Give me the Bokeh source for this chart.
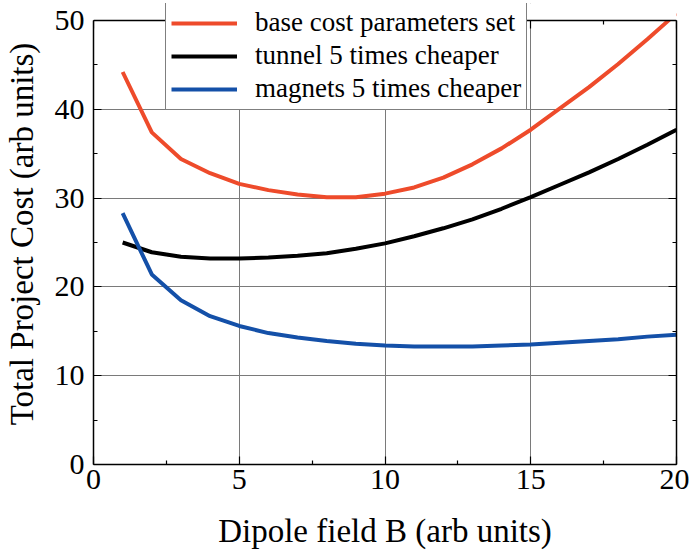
from bokeh.plotting import figure
from bokeh.models import Legend, LegendItem, LinearAxis, FixedTicker, Range1d, BoxAnnotation
from bokeh.embed import file_html
from bokeh.resources import INLINE

# ---- data ----
B = [1, 2, 3, 4, 5, 6, 7, 8, 9, 10, 11, 12, 13, 14, 15, 16, 17, 18, 19, 20]
base_cost = [44.2, 37.4, 34.4, 32.8, 31.6, 30.9, 30.4, 30.1, 30.1, 30.5,
             31.2, 32.3, 33.8, 35.6, 37.7, 40.1, 42.5, 45.1, 47.9, 50.8]
tunnel_cheaper = [25.0, 23.9, 23.4, 23.2, 23.2, 23.3, 23.5, 23.8, 24.3, 24.9,
                  25.7, 26.6, 27.6, 28.8, 30.1, 31.5, 32.9, 34.4, 36.0, 37.7]
magnets_cheaper = [28.3, 21.4, 18.5, 16.7, 15.6, 14.8, 14.3, 13.9, 13.6, 13.4,
                   13.3, 13.3, 13.3, 13.4, 13.5, 13.7, 13.9, 14.1, 14.4, 14.6]
series_names = ["base cost parameters set", "tunnel 5 times cheaper",
                "magnets 5 times cheaper"]
series_colors = ["#EE4B2B", "#000000", "#1450A8"]
x_ticks = [0, 5, 10, 15, 20]
x_minor = [2.5, 7.5, 12.5, 17.5]
y_ticks = [0, 10, 20, 30, 40, 50]
y_minor = [5, 15, 25, 35, 45]
X_MIN, X_MAX = 0, 20
Y_MIN, Y_MAX = 0, 50

FONT = "Liberation Serif"

# px per y unit = 444 / 50; frame extends 17px above y=50 so that the
# legend box can overlap the top border, as in the reference
PX_PER_Y = 444 / 50
Y_VIEW_TOP = Y_MAX + 17 / PX_PER_Y

p = figure(frame_width=583, frame_height=461,
           x_range=Range1d(X_MIN, X_MAX), y_range=Range1d(Y_MIN, Y_VIEW_TOP),
           output_backend="svg", toolbar_location=None,
           min_border_left=85, min_border_top=3,
           min_border_right=13, min_border_bottom=91)

p.background_fill_color = "white"
p.border_fill_color = "white"
p.outline_line_color = None

xt = FixedTicker(ticks=x_ticks, minor_ticks=x_minor)
yt = FixedTicker(ticks=y_ticks, minor_ticks=y_minor)

def style_axis(ax, ticker, show_labels=True):
    ax.ticker = ticker
    ax.axis_line_color = "black"
    ax.axis_line_width = 1.5
    ax.major_tick_in = 8
    ax.major_tick_out = 0
    ax.minor_tick_in = 4
    ax.minor_tick_out = 0
    ax.major_tick_line_width = 1.2
    ax.minor_tick_line_width = 1.2
    ax.major_label_text_font = FONT
    ax.major_label_text_color = "black"
    ax.axis_label_text_font = FONT
    ax.axis_label_text_font_style = "normal"
    ax.axis_label_text_color = "black"
    if not show_labels:
        ax.major_label_overrides = {t: "" for t in ticker.ticks}
        ax.major_label_text_font_size = "1px"
        ax.major_label_standoff = 0

xa = p.xaxis[0]
ya = p.yaxis[0]
style_axis(xa, xt)
style_axis(ya, yt)
xa.bounds = (X_MIN, X_MAX)
ya.bounds = (Y_MIN, Y_MAX)
xa.axis_label = "Dipole field B (arb units)"
ya.axis_label = "Total Project Cost (arb units)"
xa.axis_label_text_font_size = "33px"
ya.axis_label_text_font_size = "33px"
xa.major_label_text_font_size = "30px"
ya.major_label_text_font_size = "30px"
xa.major_label_standoff = 5
ya.major_label_standoff = 9
xa.axis_label_standoff = 21
ya.axis_label_standoff = 12

top_ax = LinearAxis(fixed_location=Y_MAX)
right_ax = LinearAxis()
style_axis(top_ax, FixedTicker(ticks=x_ticks, minor_ticks=x_minor), False)
style_axis(right_ax, FixedTicker(ticks=y_ticks, minor_ticks=y_minor), False)
right_ax.bounds = (Y_MIN, Y_MAX)
p.add_layout(top_ax, "above")
p.add_layout(right_ax, "right")

p.xgrid.ticker = xt
p.ygrid.ticker = yt
p.xgrid.bounds = (Y_MIN, Y_MAX)
p.xgrid.grid_line_color = "#7a7a7a"
p.ygrid.grid_line_color = "#7a7a7a"
p.xgrid.grid_line_width = 1
p.ygrid.grid_line_width = 1

r1 = p.line(B, base_cost, line_color=series_colors[0], line_width=4)
r2 = p.line(B, tunnel_cheaper, line_color=series_colors[1], line_width=4)
r3 = p.line(B, magnets_cheaper, line_color=series_colors[2], line_width=4)

# blank out whatever is drawn above the y-axis maximum (acts as the clip
# edge of the plotting area); axes and legend are drawn over it
mask = BoxAnnotation(bottom=Y_MAX, fill_color="white", fill_alpha=1.0,
                     line_color=None, level="glyph")
p.add_layout(mask)

legend = Legend(items=[LegendItem(label=series_names[0], renderers=[r1]),
                       LegendItem(label=series_names[1], renderers=[r2]),
                       LegendItem(label=series_names[2], renderers=[r3])],
                location=(72, 354))
legend.label_text_font = FONT
legend.label_text_font_size = "27px"
legend.label_text_font_style = "normal"
legend.label_text_color = "black"
legend.glyph_width = 66
legend.label_standoff = 18
legend.padding = 5
legend.spacing = 2
legend.margin = 0
legend.border_line_color = "black"
legend.border_line_width = 1
legend.background_fill_color = "white"
legend.background_fill_alpha = 1.0
p.add_layout(legend, "center")

open("out.html", "w").write(file_html(p, INLINE))
